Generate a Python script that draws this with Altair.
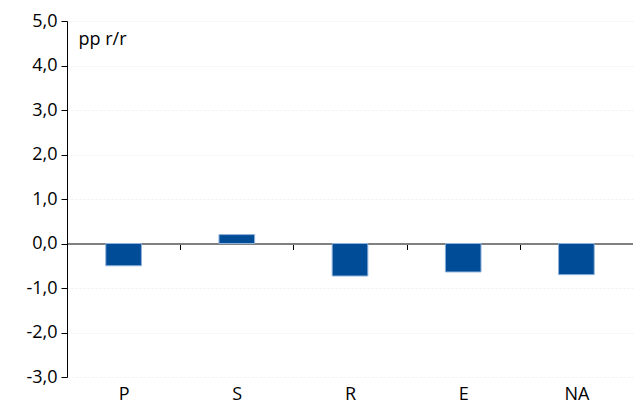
import altair as alt
import pandas as pd

categories = ["P", "S", "R", "E", "NA"]
values = [-0.50, 0.20, -0.73, -0.64, -0.70]
y_ticks = [-3, -2, -1, 0, 1, 2, 3, 4, 5]

df = pd.DataFrame({"cat": categories, "val": values})

label_expr = "replace(replace(format(datum.value, '.1f'), '.', ','), '\u2212', '-')"
FONT = "Open Sans"
FS = 18

bars = alt.Chart(df).mark_bar(
    width=alt.RelativeBandSize(0.315),
    color="#004C97",
    stroke="#8fb2da",
    strokeWidth=1,
).encode(
    x=alt.X(
        "cat:N",
        sort=categories,
        scale=alt.Scale(paddingInner=0, paddingOuter=0),
        axis=alt.Axis(
            title=None,
            labelAngle=0,
            domain=True,
            domainColor="#808080",
            domainWidth=2,
            ticks=True,
            tickBand="extent",
            tickColor="#000000",
            tickSize=6,
            offset=-133.5,
            labelPadding=136,
            labelFont=FONT,
            labelFontSize=FS,
            labelColor="#000000",
            grid=False,
        ),
    ),
    y=alt.Y(
        "val:Q",
        scale=alt.Scale(domain=[-3, 5], nice=False, zero=False),
        axis=alt.Axis(
            values=y_ticks,
            labelExpr=label_expr,
            title="pp r/r",
            titleAngle=0,
            titleAlign="left",
            titleBaseline="alphabetic",
            titleX=11,
            titleY=23,
            titleFont=FONT,
            titleFontSize=FS,
            titleFontWeight="normal",
            titleColor="#000000",
            labelFont=FONT,
            labelFontSize=FS,
            labelColor="#000000",
            labelPadding=4,
            domainColor="#000000",
            tickColor="#000000",
            tickSize=6,
            gridColor="#f0f0f0",
            gridDash=[2, 2],
        ),
    ),
)

chart = bars.properties(
    width=566,
    height=356,
    autosize=alt.AutoSizeParams(type="none"),
    padding={"left": 59, "top": 13, "right": 0, "bottom": 27},
).configure_view(stroke=None)

chart.save("out.html", embed_options={"renderer": "svg", "actions": False})
